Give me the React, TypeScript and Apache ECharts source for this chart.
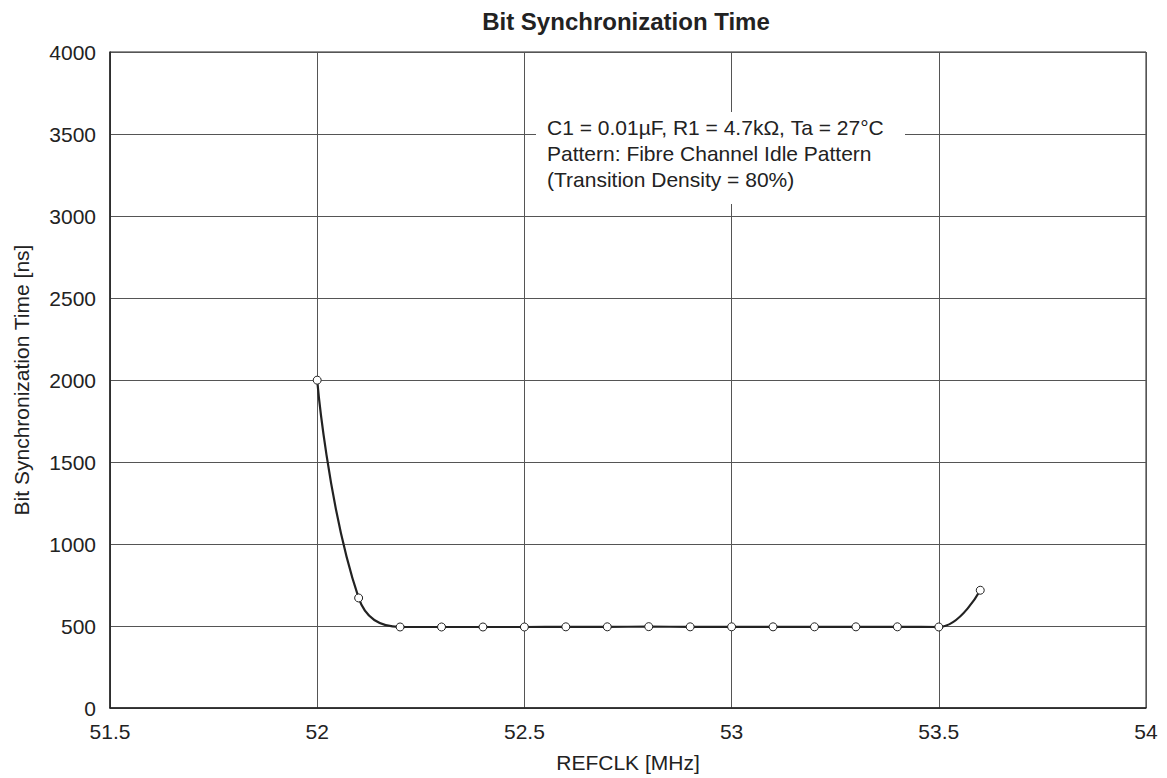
import React, { useEffect, useRef } from "react";
import * as echarts from "echarts";

const refclkMHz = [52.0, 52.1, 52.2, 52.3, 52.4, 52.5, 52.6, 52.7, 52.8, 52.9, 53.0, 53.1, 53.2, 53.3, 53.4, 53.5, 53.6];
const syncTimeNs = [1999, 671, 494, 494, 494, 494, 495, 495, 496, 495, 495, 495, 495, 495, 495, 494, 718];
const annotationLines = [
  "C1 = 0.01µF, R1 = 4.7kΩ, Ta = 27°C",
  "Pattern: Fibre Channel Idle Pattern",
  "(Transition Density = 80%)",
];

const FONT = "'Liberation Sans', Arial, Helvetica, sans-serif";

export default function App() {
  const ref = useRef<HTMLDivElement>(null);
  useEffect(() => {
    if (!ref.current) return;
    const chart = echarts.init(ref.current, null, { renderer: "svg" });
    const data = refclkMHz.map((x, i) => [x, syncTimeNs[i]]);
    chart.setOption({
      animation: false,
      backgroundColor: "#ffffff",
      textStyle: { fontFamily: FONT },
      title: {
        text: "Bit Synchronization Time",
        left: 626,
        top: 9,
        padding: 0,
        textAlign: "center",
        textStyle: { fontFamily: FONT, fontSize: 24, fontWeight: "bold", color: "#222" },
      },
      grid: {
        left: 110,
        right: 21,
        top: 52,
        bottom: 69,
        show: true,
        borderColor: "#222",
        borderWidth: 1,
        backgroundColor: "transparent",
      },
      xAxis: {
        type: "value",
        min: 51.5,
        max: 54,
        interval: 0.5,
        name: "REFCLK [MHz]",
        nameLocation: "middle",
        nameGap: 44,
        nameTextStyle: { fontFamily: FONT, fontSize: 21, color: "#222" },
        axisLine: { show: true, lineStyle: { color: "#222", width: 1.5 } },
        axisTick: { show: false },
        axisLabel: { fontFamily: FONT, fontSize: 21, color: "#222", margin: 13, formatter: (v: number) => String(v) },
        splitLine: { show: true, lineStyle: { color: "#555", width: 1 } },
      },
      yAxis: {
        type: "value",
        min: 0,
        max: 4000,
        interval: 500,
        name: "Bit Synchronization Time [ns]",
        nameLocation: "middle",
        nameGap: 78,
        nameTextStyle: { fontFamily: FONT, fontSize: 21, color: "#222" },
        axisLine: { show: true, lineStyle: { color: "#222", width: 1.5 } },
        axisTick: { show: false },
        axisLabel: { fontFamily: FONT, fontSize: 21, color: "#222", margin: 14, formatter: (v: number) => String(v) },
        splitLine: { show: true, lineStyle: { color: "#555", width: 1 } },
      },
      series: [
        {
          type: "line",
          data,
          smooth: 0.45,
          symbol: "circle",
          symbolSize: 8,
          showAllSymbol: true,
          lineStyle: { color: "#222", width: 2.2 },
          itemStyle: { color: "#ffffff", borderColor: "#222", borderWidth: 1 },
          z: 5,
        },
      ],
      graphic: [
        {
          type: "rect",
          left: 536,
          top: 112,
          shape: { width: 369, height: 92 },
          style: { fill: "#ffffff" },
          z: 10,
        },
        {
          type: "text",
          left: 547,
          top: 114,
          z: 11,
          style: {
            text: annotationLines.join("\n"),
            font: `21px ${FONT}`,
            fill: "#222",
            lineHeight: 26,
          },
        },
      ],
    });
    return () => chart.dispose();
  }, []);
  return (
    <div
      ref={ref}
      style={{ position: "absolute", left: 0, top: 0, width: 1167, height: 778 }}
    />
  );
}
